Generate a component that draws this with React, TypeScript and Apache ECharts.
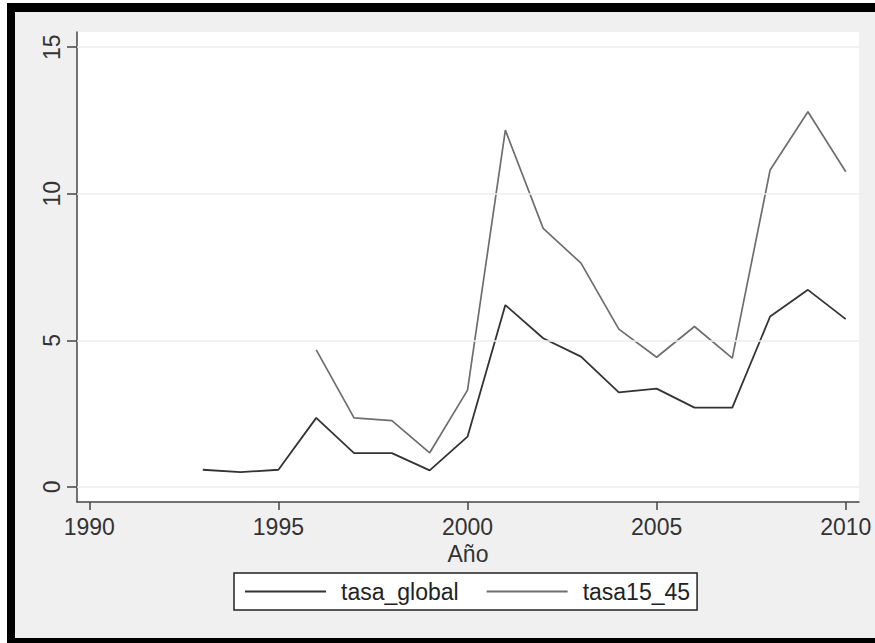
import React, { useEffect, useRef } from "react";
import * as echarts from "echarts";

const years = [1993, 1994, 1995, 1996, 1997, 1998, 1999, 2000, 2001, 2002, 2003, 2004, 2005, 2006, 2007, 2008, 2009, 2010];
const tasaGlobal = [0.58, 0.5, 0.58, 2.35, 1.15, 1.15, 0.56, 1.71, 6.2, 5.07, 4.44, 3.22, 3.35, 2.7, 2.7, 5.81, 6.72, 5.72];
const tasa15_45 = [null, null, null, 4.67, 2.35, 2.26, 1.16, 3.3, 12.17, 8.82, 7.63, 5.38, 4.42, 5.47, 4.39, 10.81, 12.8, 10.75];
const xTicks = [1990, 1995, 2000, 2005, 2010];
const yTicks = [0, 5, 10, 15];
const seriesNames = ["tasa_global", "tasa15_45"];

const FONT = "'Liberation Sans', Arial, sans-serif";

export default function App() {
  const ref = useRef<HTMLDivElement>(null);
  useEffect(() => {
    if (!ref.current) return;
    const chart = echarts.init(ref.current, undefined, { renderer: "svg" });
    const pairs = (vals: (number | null)[]) => years.map((y, i) => [y, vals[i]]);
    chart.setOption({
      animation: false,
      backgroundColor: "transparent",
      textStyle: { fontFamily: FONT },
      grid: {
        left: 77,
        right: 16,
        top: 32,
        bottom: 141,
        show: true,
        backgroundColor: "#ffffff",
        borderWidth: 0,
      },
      legend: {
        data: seriesNames,
        left: 234,
        top: 573,
        orient: "horizontal",
        icon: "rect",
        backgroundColor: "#ffffff",
        borderColor: "#222",
        borderWidth: 1.5,
        borderRadius: 0,
        padding: [7, 7, 7, 11],
        itemWidth: 81,
        itemHeight: 2,
        itemGap: 28,
        selectedMode: false,
        textStyle: { fontSize: 23, color: "#222", fontFamily: FONT, padding: [0, 0, 0, 10] },
      },
      xAxis: {
        type: "value",
        min: 1989.675,
        max: 2010.35,
        name: "Año",
        nameLocation: "middle",
        nameGap: 33,
        nameTextStyle: { fontSize: 23, color: "#333", fontFamily: FONT },
        axisLine: { show: true, onZero: false, lineStyle: { color: "#444", width: 1.5 } },
        axisTick: { show: true, customValues: xTicks, length: 8, lineStyle: { color: "#444", width: 1.5 } },
        axisLabel: {
          customValues: xTicks,
          formatter: (v: number) => String(v),
          margin: 13,
          fontSize: 23,
          color: "#333",
          fontFamily: FONT,
        },
        splitLine: { show: false },
      },
      yAxis: {
        type: "value",
        min: -0.52,
        max: 15.52,
        axisLine: { show: true, onZero: false, lineStyle: { color: "#444", width: 1.5 } },
        axisTick: { show: true, customValues: yTicks, length: 10, lineStyle: { color: "#444", width: 1.5 } },
        axisLabel: {
          customValues: yTicks,
          formatter: (v: number) => String(v),
          rotate: 90,
          margin: 14,
          fontSize: 23,
          color: "#333",
          fontFamily: FONT,
        },
        splitLine: { show: false },
      },
      series: [
        {
          name: "gridlines",
          type: "line",
          data: [],
          z: 1,
          silent: true,
          markLine: {
            silent: true,
            symbol: "none",
            label: { show: false },
            lineStyle: { color: "#ededed", width: 1.5, type: "solid" },
            data: yTicks.map((v) => ({ yAxis: v })),
          },
        },
        {
          name: seriesNames[0],
          type: "line",
          data: pairs(tasaGlobal),
          showSymbol: false,
          symbol: "none",
          z: 3,
          color: "#333333",
          lineStyle: { color: "#333333", width: 1.8 },
        },
        {
          name: seriesNames[1],
          type: "line",
          data: pairs(tasa15_45),
          showSymbol: false,
          symbol: "none",
          connectNulls: false,
          z: 3,
          color: "#6e6e6e",
          lineStyle: { color: "#6e6e6e", width: 1.7 },
        },
      ],
    });
    return () => chart.dispose();
  }, []);

  return (
    <div style={{ position: "fixed", left: 0, top: 0, width: 875, height: 643, background: "#ffffff" }}>
      <div
        style={{
          position: "absolute",
          left: 7,
          top: 3,
          width: 868,
          height: 640,
          boxSizing: "border-box",
          borderLeft: "8px solid #000",
          borderTop: "9px solid #000",
          borderBottom: "5px solid #000",
          background: "#f0f0f0",
        }}
      />
      <div ref={ref} style={{ position: "absolute", left: 0, top: 0, width: 875, height: 643 }} />
    </div>
  );
}
